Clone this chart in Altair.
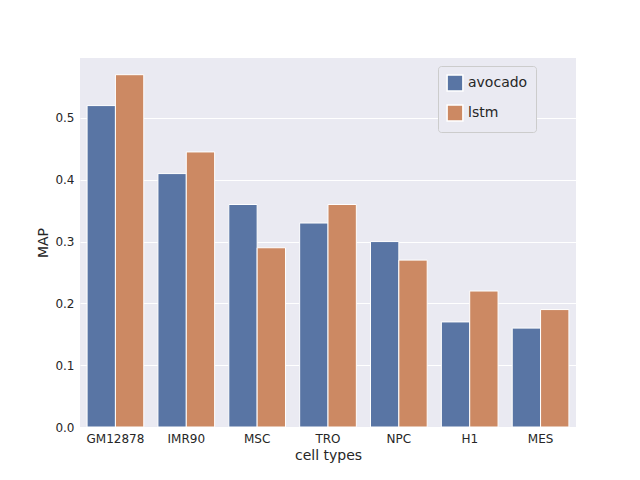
import altair as alt
import pandas as pd

cells = ["GM12878", "IMR90", "MSC", "TRO", "NPC", "H1", "MES"]
avocado = [0.52, 0.41, 0.36, 0.33, 0.30, 0.17, 0.16]
lstm = [0.57, 0.445, 0.29, 0.36, 0.27, 0.22, 0.19]

rows = []
for c, a, l in zip(cells, avocado, lstm):
    rows.append({"cell": c, "model": "avocado", "MAP": a})
    rows.append({"cell": c, "model": "lstm", "MAP": l})
df = pd.DataFrame(rows)

chart = alt.Chart(df).mark_bar(stroke="white", strokeWidth=1).encode(
    x=alt.X("cell:N", sort=cells, title="cell types",
            scale=alt.Scale(paddingInner=0.2, paddingOuter=0.1),
            axis=alt.Axis(labelAngle=0, grid=False)),
    xOffset=alt.XOffset("model:N", sort=["avocado", "lstm"]),
    y=alt.Y("MAP:Q", title="MAP", scale=alt.Scale(domain=[0, 0.597], nice=False),
            axis=alt.Axis(values=[0, 0.1, 0.2, 0.3, 0.4, 0.5], format=".1f")),
    color=alt.Color("model:N", sort=["avocado", "lstm"],
                    scale=alt.Scale(domain=["avocado", "lstm"], range=["#5975A4", "#CC8963"]),
                    legend=alt.Legend(title=None, orient="none", legendX=358, legendY=8,
                                      symbolType="square", symbolSize=250,
                                      fillColor="#EAEAF2", strokeColor="#CCCCCC",
                                      padding=8, cornerRadius=3, labelFontSize=14,
                                      rowPadding=8)),
).properties(
    width=496, height=369,
    autosize=alt.AutoSizeParams(type="none"),
    padding={"left": 72, "top": 50, "right": 56, "bottom": 45},
).configure_view(
    fill="#EAEAF2", stroke=None
).configure_axis(
    labelFont="DejaVu Sans", titleFont="DejaVu Sans",
    labelFontSize=12, titleFontSize=14, titleFontWeight="normal",
    labelColor="#262626", titleColor="#262626",
    domain=False, ticks=False, gridColor="white", gridWidth=1, labelPadding=6
).configure_legend(labelFont="DejaVu Sans", labelColor="#262626")

chart.save("out.html", embed_options={"renderer": "svg", "actions": False})
